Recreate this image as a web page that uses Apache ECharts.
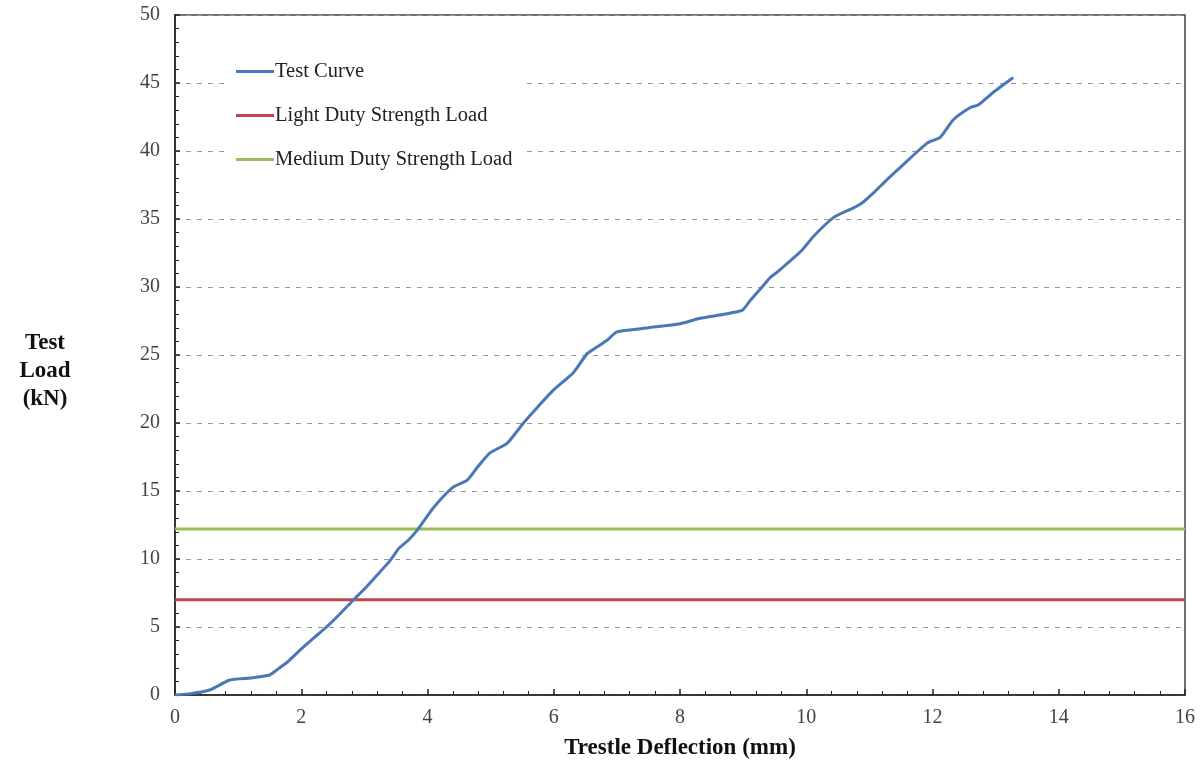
<!DOCTYPE html>
<html>
<head>
<meta charset="UTF-8">
<title>Trestle Test</title>
<script src="https://cdn.jsdelivr.net/npm/echarts@6/dist/echarts.min.js"></script>
<style>
  html, body { margin: 0; padding: 0; background: #fff; }
  #chart { width: 1203px; height: 765px; }
</style>
</head>
<body>
<div id="chart"></div>
<script type="text/javascript">
// deflection (mm) vs load (kN)
var deflection = [0, 0.25, 0.55, 0.87, 1.2, 1.5, 1.6, 1.8, 1.98, 2.2, 2.4, 2.6, 2.83, 3.0, 3.14, 3.41, 3.55, 3.7, 3.85, 4.1, 4.41, 4.63, 4.8, 4.99, 5.26, 5.52, 5.75, 5.99, 6.31, 6.53, 6.69, 6.85, 7.0, 7.5, 8.0, 8.32, 8.7, 8.99, 9.11, 9.3, 9.43, 9.54, 9.79, 9.95, 10.11, 10.43, 10.74, 10.89, 11.06, 11.28, 11.49, 11.92, 12.12, 12.33, 12.6, 12.73, 12.96, 13.28];
var testLoad = [0, 0.1, 0.37, 1.1, 1.25, 1.47, 1.8, 2.5, 3.3, 4.2, 5.0, 5.9, 7.0, 7.8, 8.5, 9.9, 10.8, 11.4, 12.2, 13.8, 15.3, 15.8, 16.8, 17.8, 18.5, 20.0, 21.2, 22.4, 23.7, 25.1, 25.6, 26.1, 26.7, 27.0, 27.3, 27.7, 28.0, 28.3, 29.0, 30.0, 30.7, 31.1, 32.1, 32.8, 33.7, 35.1, 35.8, 36.2, 36.9, 37.9, 38.8, 40.6, 41.0, 42.3, 43.2, 43.4, 44.3, 45.4];
var lightDutyLoad = 7.0;
var mediumDutyLoad = 12.2;
var xRange = [0, 16];
var seriesNames = ['Test Curve', 'Light Duty Strength Load', 'Medium Duty Strength Load'];
var seriesColors = ['#4a78b5', '#c0444f', '#9bbb59'];

var serif = 'Liberation Serif';
var chart = echarts.init(document.getElementById('chart'));

var curve = deflection.map(function (d, i) { return [d, testLoad[i]]; });
var lightLine = xRange.map(function (x) { return [x, lightDutyLoad]; });
var mediumLine = xRange.map(function (x) { return [x, mediumDutyLoad]; });

chart.setOption({
  animation: false,
  backgroundColor: '#fff',
  grid: {
    left: 175, right: 18, top: 15, bottom: 70,
    outerBoundsMode: 'none', containLabel: false,
    show: true, borderColor: '#444', borderWidth: 1.5, backgroundColor: 'transparent'
  },
  legend: {
    orient: 'vertical',
    left: 228, top: 55,
    padding: [6, 14, 8, 8],
    backgroundColor: '#fff',
    itemGap: 23,
    itemWidth: 38, itemHeight: 3,
    icon: 'rect',
    textStyle: { fontFamily: serif, fontSize: 20.5, color: '#222', padding: [0, 0, 0, -4] },
    data: seriesNames
  },
  graphic: [{
    type: 'text', x: 45, y: 329,
    style: {
      text: 'Test\nLoad\n(kN)', fontFamily: serif, fontSize: 23, fontWeight: 'bold',
      fill: '#111', align: 'center', lineHeight: 28
    }
  }],
  xAxis: {
    type: 'value', min: 0, max: 16, interval: 2,
    name: 'Trestle Deflection (mm)', nameLocation: 'middle', nameGap: 42,
    nameTextStyle: { fontFamily: serif, fontSize: 23, fontWeight: 'bold', color: '#111' },
    axisLine: { lineStyle: { color: '#222', width: 1.5 } },
    axisTick: { show: true, inside: true, length: 6, lineStyle: { color: '#222', width: 1.5 } },
    minorTick: { show: true, splitNumber: 5, length: 4, lineStyle: { color: '#222' } },
    axisLabel: { fontFamily: serif, fontSize: 20, color: '#444', margin: 13 },
    splitLine: { show: false }
  },
  yAxis: {
    type: 'value', min: 0, max: 50, interval: 5,
    axisLine: { show: true, lineStyle: { color: '#222', width: 1.5 } },
    axisTick: { show: true, inside: true, length: 5, lineStyle: { color: '#222', width: 1.5 } },
    minorTick: { show: true, splitNumber: 5, length: 4, lineStyle: { color: '#222' } },
    axisLabel: { fontFamily: serif, fontSize: 20, color: '#444', margin: 15 },
    splitLine: { show: true, lineStyle: { color: '#999', type: [5, 6], width: 1.2 } }
  },
  series: [{
    name: seriesNames[0], type: 'line', data: curve, showSymbol: false, symbol: 'none',
    smooth: 0.2, z: 3,
    lineStyle: { color: seriesColors[0], width: 3 }, itemStyle: { color: seriesColors[0] }
  }, {
    name: seriesNames[1], type: 'line', data: lightLine, symbol: 'none', z: 2,
    lineStyle: { color: seriesColors[1], width: 3 }, itemStyle: { color: seriesColors[1] }
  }, {
    name: seriesNames[2], type: 'line', data: mediumLine, symbol: 'none', z: 2,
    lineStyle: { color: seriesColors[2], width: 3 }, itemStyle: { color: seriesColors[2] }
  }]
});
</script>
</body>
</html>
